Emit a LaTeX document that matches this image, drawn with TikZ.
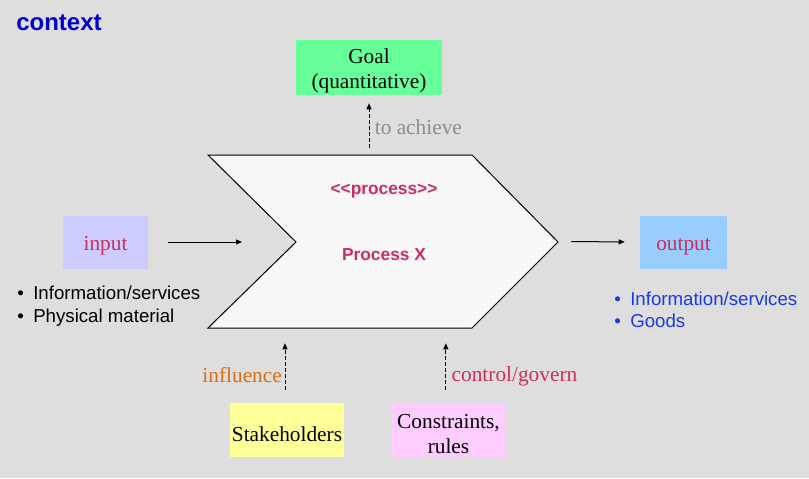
\documentclass[tikz,border=0pt]{standalone}
\usepackage{fontspec}
\setmainfont{Liberation Serif}
\setsansfont{Liberation Sans}
\usetikzlibrary{arrows.meta}
\definecolor{ctxblue}{RGB}{0,0,204}
\definecolor{listblue}{RGB}{25,60,225}
\definecolor{crimson}{RGB}{200,48,90}
\definecolor{inflorange}{RGB}{214,110,20}
\definecolor{goalgreen}{RGB}{102,255,153}
\definecolor{inblue}{RGB}{204,204,255}
\definecolor{outblue}{RGB}{153,204,255}
\definecolor{stakeyellow}{RGB}{255,255,153}
\definecolor{rulepink}{RGB}{255,204,255}
% lowers box text a little, as the slide did
\newcommand{\tstrut}{\rule{0pt}{1.05em}}

\begin{document}
\begin{tikzpicture}[x=0.75pt,y=-0.75pt,>={Triangle[length=4.5pt,width=3.75pt]},
  box/.style={inner sep=0pt,align=center,font=\fontsize{16}{18.75}\selectfont},
  flow/.style={->,line width=0.75pt},
  dasharrow/.style={->,line width=0.75pt,dash pattern=on 3pt off 1.5pt},
  lbl/.style={font=\fontsize{16}{18.75}\selectfont,inner sep=2pt}]
\fill[black!13] (0,0) rectangle (809,478);
\useasboundingbox (0,0) rectangle (809,478);
\node[anchor=west,inner sep=0pt,text=ctxblue,font=\sffamily\bfseries\fontsize{18}{22}\selectfont] (ctx) at (16,23) {context};
% process chevron
\draw[line width=0.75pt,fill=black!3] (208,155) -- (472,155) -- (558,242) -- (472,328) -- (208,328) -- (296,242) -- cycle;
\node[minimum width=262.5pt,minimum height=129.75pt,inner sep=0pt] (proc) at (383,241.5) {};
\coordinate (notch) at (296,242);
\node[text=crimson,font=\sffamily\bfseries\fontsize{13}{15}\selectfont] (stereo) at (384,191) {<{}<process>{}>};
\node[text=crimson,font=\sffamily\bfseries\fontsize{13}{15}\selectfont] (pname) at (384,255) {Process X};
% boxes
\node[box,fill=goalgreen,minimum width=109.5pt,minimum height=41.25pt] (goal) at (369,67.5) {\tstrut Goal\\(quantitative)};
\node[box,fill=inblue,text=crimson,minimum width=63.75pt,minimum height=39.75pt] (in) at (105.5,242) {\tstrut input};
\node[box,fill=outblue,text=crimson,minimum width=65.25pt,minimum height=39.75pt] (out) at (683.5,242) {\tstrut output};
\node[box,fill=stakeyellow,minimum width=85.5pt,minimum height=40.5pt] (stake) at (287,430) {\tstrut Stakeholders};
\node[box,fill=rulepink,minimum width=84.75pt,minimum height=40.5pt] (rules) at (448.5,430) {\tstrut Constraints,\\rules};
% lists
\node[anchor=west,inner sep=0pt,align=left,font=\sffamily\fontsize{14}{17.25}\selectfont] (inlist) at (17,306.5)
  {\makebox[12pt][l]{\textbullet}Information/services\\\makebox[12pt][l]{\textbullet}Physical material};
\node[anchor=west,inner sep=0pt,align=left,text=listblue,font=\sffamily\fontsize{14}{16.5}\selectfont] (outlist) at (614,310)
  {\makebox[12pt][l]{\textbullet}Information/services\\\makebox[12pt][l]{\textbullet}Goods};
% connectors
\draw[flow,shorten <=15pt,shorten >=40.5pt] (in.east) -- (notch);
\draw[flow,shorten <=9.75pt,shorten >=11.25pt] (proc.east) -- (out.west);
\draw[dasharrow,shorten <=5.25pt,shorten >=6pt] (proc.north -| goal) -- (goal.south)
  node[midway,right,lbl,text=black!45,xshift=2pt,yshift=-1.5pt] {to achieve};
\draw[dasharrow,shorten <=9.75pt,shorten >=11.25pt] ([xshift=-1.5pt]stake.north) -- ([xshift=-1.5pt]stake.north |- proc.south)
  node[pos=0.37,left,lbl,text=inflorange] {influence};
\draw[dasharrow,shorten <=9.75pt,shorten >=11.25pt] ([xshift=-2pt]rules.north) -- ([xshift=-2pt]rules.north |- proc.south)
  node[pos=0.35,right,lbl,text=crimson,xshift=2pt] {control/govern};
\end{tikzpicture}
\end{document}
